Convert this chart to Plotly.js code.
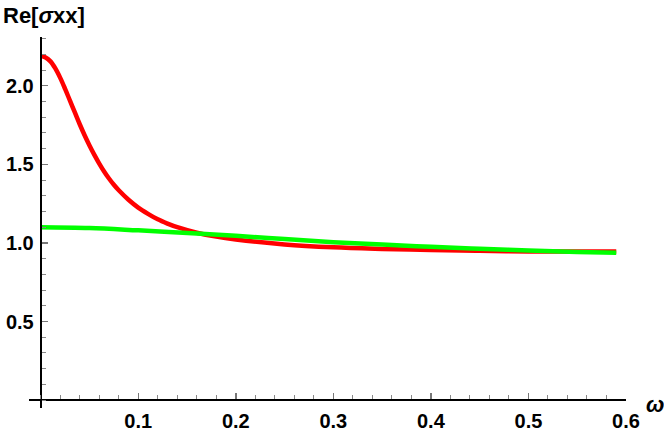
<!DOCTYPE html>
<html>
<head>
<meta charset="utf-8">
<script src="https://cdn.plot.ly/plotly-3.0.1.min.js"></script>
<style>
  html, body { margin: 0; padding: 0; background: #fff; }
  #chart { width: 664px; height: 435px; }
</style>
</head>
<body>
<div id="chart"></div>
<script>
// Re[sigma_xx] versus omega
const omegaRed = [0, 0.005, 0.01, 0.015, 0.02, 0.025, 0.03, 0.035, 0.04, 0.045, 0.05, 0.055,
  0.06, 0.065, 0.07, 0.075, 0.08, 0.09, 0.10, 0.11, 0.12, 0.13, 0.14, 0.16, 0.18, 0.20,
  0.25, 0.30, 0.35, 0.40, 0.45, 0.50, 0.55, 0.59];
const sigmaRed = [2.19, 2.18, 2.155, 2.11, 2.05, 1.98, 1.905, 1.83, 1.755, 1.685, 1.62, 1.56,
  1.505, 1.455, 1.41, 1.37, 1.335, 1.275, 1.225, 1.185, 1.15, 1.123, 1.10, 1.065, 1.04, 1.022,
  0.99, 0.972, 0.962, 0.955, 0.95, 0.946, 0.945, 0.945];

const omegaGreen = [0, 0.05, 0.10, 0.16, 0.20, 0.25, 0.30, 0.35, 0.40, 0.45, 0.50, 0.55, 0.59];
const sigmaGreen = [1.10, 1.095, 1.08, 1.06, 1.045, 1.025, 1.005, 0.99, 0.975, 0.963, 0.952, 0.943, 0.937];

const xTicks = [0.1, 0.2, 0.3, 0.4, 0.5, 0.6];
const yTicks = [0.5, 1.0, 1.5, 2.0];

const xRange = [-0.012, 0.6];
const yRange = [-0.05, 2.31];

const tickFont = { family: 'Liberation Sans, Arial, sans-serif', size: 20, color: '#000', weight: 'bold' };

const data = [
  {
    x: omegaRed, y: sigmaRed, type: 'scatter', mode: 'lines',
    line: { color: '#ff0000', width: 4.5, shape: 'spline', smoothing: 1 },
    hoverinfo: 'skip'
  },
  {
    x: omegaGreen, y: sigmaGreen, type: 'scatter', mode: 'lines',
    line: { color: '#00ff00', width: 4.5, shape: 'spline', smoothing: 1 },
    hoverinfo: 'skip'
  }
];

const layout = {
  width: 664,
  height: 435,
  margin: { l: 29, r: 38, t: 37, b: 27 },
  paper_bgcolor: '#fff',
  plot_bgcolor: '#fff',
  showlegend: false,
  xaxis: {
    range: xRange,
    anchor: 'free',
    position: (0 - yRange[0]) / (yRange[1] - yRange[0]),
    showgrid: false, zeroline: false,
    showline: true, linecolor: '#000', linewidth: 2,
    tickvals: xTicks, ticktext: xTicks.map(v => v.toFixed(1)),
    ticks: 'inside', ticklen: 6, tickwidth: 1.5, tickcolor: '#777',
    minor: { dtick: 0.02, ticks: 'inside', ticklen: 4, tickwidth: 1, tickcolor: '#888', showgrid: false },
    ticklabelstandoff: 3,
    tickfont: tickFont
  },
  yaxis: {
    range: yRange,
    anchor: 'free',
    position: (0 - xRange[0]) / (xRange[1] - xRange[0]),
    showgrid: false, zeroline: false,
    showline: true, linecolor: '#000', linewidth: 2,
    tickvals: yTicks, ticktext: yTicks.map(v => v.toFixed(1)),
    ticks: 'inside', ticklen: 6, tickwidth: 1.5, tickcolor: '#777',
    minor: { dtick: 0.1, ticks: 'inside', ticklen: 4, tickwidth: 1, tickcolor: '#888', showgrid: false },
    ticklabelstandoff: 2,
    tickfont: tickFont
  },
  annotations: [
    {
      text: 'Re[<i>σ</i>xx]',
      xref: 'paper', yref: 'paper',
      x: (1 - 29) / 597, y: (435 - 27 - 15) / 371,
      xanchor: 'left', yanchor: 'middle', showarrow: false,
      font: Object.assign({}, tickFont, { size: 22 })
    },
    {
      text: '<i>ω</i>',
      xref: 'paper', yref: 'paper',
      x: (644 - 29) / 597, y: (435 - 27 - 404) / 371,
      xanchor: 'left', yanchor: 'middle', showarrow: false,
      font: Object.assign({}, tickFont, { size: 22 })
    }
  ]
};

Plotly.newPlot('chart', data, layout, { staticPlot: true, displayModeBar: false });
</script>
</body>
</html>
